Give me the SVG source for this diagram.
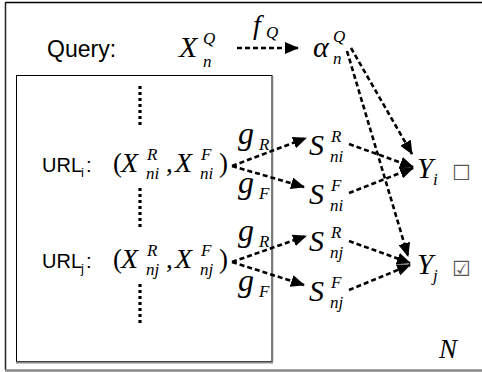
<svg xmlns="http://www.w3.org/2000/svg" width="482" height="372" viewBox="0 0 482 372">
  <style>
    .sans { font-family: "Liberation Sans", Arial, sans-serif; fill: #000; }
    .math { font-family: "Liberation Serif", "Times New Roman", serif; font-style: italic; fill: #000; }
    .up { font-family: "Liberation Serif", "Times New Roman", serif; fill: #000; }
    .box { font-family: "DejaVu Sans", sans-serif; fill: #555; }
    .dash { fill: none; stroke: #000; stroke-width: 2.6; stroke-dasharray: 5 3; }
    .dots { fill: none; stroke: #000; stroke-width: 3.2; stroke-dasharray: 3 3; }
  </style>
  <defs>
    <marker id="arrow" viewBox="0 0 14 12" refX="13" refY="6" markerWidth="14" markerHeight="12" markerUnits="userSpaceOnUse" orient="auto">
      <path d="M0,0 L14,6 L0,12 z" fill="#000"/>
    </marker>
  </defs>
  <rect width="482" height="372" fill="#fff"/>

  <!-- outer plate -->
  <g id="outer-frame">
    <line x1="5.5" y1="2.5" x2="482" y2="2.5" stroke="#000" stroke-width="1.5"/>
    <line x1="5.5" y1="2" x2="5.5" y2="370" stroke="#222" stroke-width="1.5"/>
    <line x1="5" y1="370.5" x2="482" y2="370.5" stroke="#888" stroke-width="2.5"/>
  </g>

  <!-- plate over N documents -->
  <g id="url-plate">
    <rect x="16.5" y="75.5" width="255.5" height="286" fill="none" stroke="#000" stroke-width="1"/>
    <line x1="272.5" y1="76" x2="272.5" y2="362" stroke="#777" stroke-width="1.5"/>
    <line x1="16" y1="362.5" x2="273" y2="362.5" stroke="#888" stroke-width="2"/>
    <text class="math" x="439" y="358" font-size="27">N</text>
  </g>

  <g id="query">
    <text class="sans" x="47" y="57" font-size="23">Query:</text>
    <text class="math" x="179" y="57" font-size="30">X</text>
    <text class="math" x="203" y="44" font-size="17">Q</text>
    <text class="math" x="203" y="67" font-size="17">n</text>
  </g>

  <g id="alpha">
    <text class="math" x="313" y="57" font-size="30">α</text>
    <text class="math" x="333" y="42" font-size="17">Q</text>
    <text class="math" x="333" y="64" font-size="17">n</text>
  </g>

  <g id="url-i">
    <text class="sans" x="42" y="172" font-size="20">URL</text>
    <text class="sans" x="81" y="177" font-size="13">i</text>
    <text class="sans" x="86" y="172" font-size="20">:</text>
    <text class="up" x="113" y="172" font-size="27">(</text>
    <text class="math" x="121" y="172" font-size="28">X</text>
    <text class="math" x="147" y="160" font-size="17">R</text>
    <text class="math" x="146" y="179" font-size="17">ni</text>
    <text class="up" x="166" y="172" font-size="27">,</text>
    <text class="math" x="175" y="172" font-size="28">X</text>
    <text class="math" x="201" y="160" font-size="17">F</text>
    <text class="math" x="200" y="179" font-size="17">ni</text>
    <text class="up" x="219" y="172" font-size="27">)</text>
  </g>

  <g id="url-j">
    <text class="sans" x="42" y="268" font-size="20">URL</text>
    <text class="sans" x="81" y="273" font-size="13">j</text>
    <text class="sans" x="86" y="268" font-size="20">:</text>
    <text class="up" x="113" y="268" font-size="27">(</text>
    <text class="math" x="121" y="268" font-size="28">X</text>
    <text class="math" x="147" y="256" font-size="17">R</text>
    <text class="math" x="146" y="275" font-size="17">nj</text>
    <text class="up" x="166" y="268" font-size="27">,</text>
    <text class="math" x="175" y="268" font-size="28">X</text>
    <text class="math" x="201" y="256" font-size="17">F</text>
    <text class="math" x="200" y="275" font-size="17">nj</text>
    <text class="up" x="219" y="268" font-size="27">)</text>
  </g>

  <g id="s-r-ni">
    <text class="math" x="309" y="155" font-size="30">S</text>
    <text class="math" x="331" y="142" font-size="17">R</text>
    <text class="math" x="330" y="162" font-size="17">ni</text>
  </g>
  <g id="s-f-ni">
    <text class="math" x="309" y="204" font-size="30">S</text>
    <text class="math" x="331" y="191" font-size="17">F</text>
    <text class="math" x="330" y="211" font-size="17">ni</text>
  </g>
  <g id="s-r-nj">
    <text class="math" x="309" y="251" font-size="30">S</text>
    <text class="math" x="331" y="238" font-size="17">R</text>
    <text class="math" x="330" y="258" font-size="17">nj</text>
  </g>
  <g id="s-f-nj">
    <text class="math" x="309" y="301" font-size="30">S</text>
    <text class="math" x="331" y="288" font-size="17">F</text>
    <text class="math" x="330" y="308" font-size="17">nj</text>
  </g>

  <g id="y-i">
    <text class="math" x="417" y="178" font-size="29">Y</text>
    <text class="math" x="433" y="185" font-size="17">i</text>
    <text class="box" x="452" y="180" font-size="21">☐</text>
  </g>
  <g id="y-j">
    <text class="math" x="417" y="274" font-size="29">Y</text>
    <text class="math" x="433" y="281" font-size="17">j</text>
    <text class="box" x="452" y="276" font-size="21">☑</text>
  </g>

  <g id="connectors">
    <!-- ellipses along the plate -->
    <line class="dots" x1="140" y1="86" x2="140" y2="125"/>
    <line class="dots" x1="140" y1="188" x2="140" y2="229"/>
    <line class="dots" x1="140" y1="284" x2="140" y2="323"/>

    <line class="dash" x1="237" y1="48" x2="298" y2="48" marker-end="url(#arrow)"/>
    <text class="math" x="253" y="34" font-size="28">f</text>
    <text class="math" x="266" y="38" font-size="17">Q</text>

    <line class="dash" x1="351" y1="48" x2="412" y2="154" marker-end="url(#arrow)"/>
    <line class="dash" x1="347" y1="51" x2="408" y2="256" marker-end="url(#arrow)"/>

    <line class="dash" x1="232" y1="166" x2="306" y2="138" marker-end="url(#arrow)"/>
    <line class="dash" x1="232" y1="166" x2="304" y2="187" marker-end="url(#arrow)"/>
    <text class="math" x="238" y="144" font-size="32">g</text>
    <text class="math" x="259" y="150" font-size="17">R</text>
    <text class="math" x="238" y="193" font-size="32">g</text>
    <text class="math" x="259" y="199" font-size="17">F</text>

    <line class="dash" x1="349" y1="144" x2="413" y2="167" marker-end="url(#arrow)"/>
    <line class="dash" x1="349" y1="193" x2="413" y2="168" marker-end="url(#arrow)"/>

    <line class="dash" x1="232" y1="262" x2="306" y2="236" marker-end="url(#arrow)"/>
    <line class="dash" x1="232" y1="262" x2="304" y2="285" marker-end="url(#arrow)"/>
    <text class="math" x="238" y="241" font-size="32">g</text>
    <text class="math" x="259" y="247" font-size="17">R</text>
    <text class="math" x="238" y="291" font-size="32">g</text>
    <text class="math" x="259" y="297" font-size="17">F</text>

    <line class="dash" x1="349" y1="241" x2="410" y2="263" marker-end="url(#arrow)"/>
    <line class="dash" x1="349" y1="290" x2="410" y2="265" marker-end="url(#arrow)"/>
  </g>
</svg>
